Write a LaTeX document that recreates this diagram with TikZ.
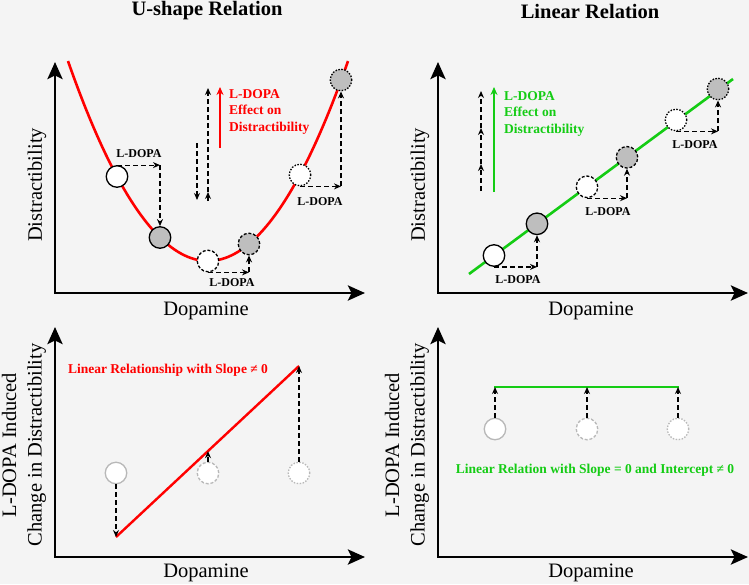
\documentclass[tikz,border=0pt]{standalone}
\usepackage{fontspec}
\setmainfont{Liberation Serif}
\usetikzlibrary{arrows.meta,calc}
\definecolor{bgc}{HTML}{F4F4F4}
\definecolor{myred}{HTML}{FF0000}
\definecolor{mygreen}{HTML}{14CC14}
\definecolor{fillg}{HTML}{BEBEBE}
\definecolor{faint}{HTML}{B8B8B8}
\begin{document}
\begin{tikzpicture}[x=1pt,y=-1pt,
  axis/.style={line width=2.9pt, line join=miter,
    {Stealth[length=17pt,width=15pt,inset=3.5pt]}-{Stealth[length=17pt,width=15pt,inset=3.5pt]}},
  pt/.style={circle, minimum size=21.5pt, inner sep=0pt, line width=1.3pt, draw=black},
  wsolid/.style={pt, fill=white},
  gsolid/.style={pt, fill=fillg},
  wdash/.style={pt, fill=white, dash pattern=on 3pt off 1.8pt},
  gdash/.style={pt, fill=fillg, dash pattern=on 3pt off 1.8pt},
  wdot/.style={pt, fill=white, dash pattern=on 1.5pt off 1.5pt},
  gdot/.style={pt, fill=fillg, dash pattern=on 1.5pt off 1.5pt},
  ghost/.style={pt, fill=white, draw=faint},
  ghostdash/.style={ghost, dash pattern=on 3pt off 1.8pt},
  ghostdot/.style={ghost, dash pattern=on 1.5pt off 1.5pt},
  da/.style={line width=1.2pt, dash pattern=on 5pt off 3pt, -{Stealth[length=7pt,width=6pt]}},
  lbl/.style={font=\bfseries\fontsize{12}{14}\selectfont, inner sep=0pt},
  leg/.style={font=\bfseries\fontsize{13.5}{16.8}\selectfont, inner sep=0pt, align=left},
  axlbl/.style={font=\fontsize{20.5}{25.5}\selectfont, inner sep=0pt},
  ttl/.style={font=\bfseries\fontsize{20.5}{24}\selectfont, inner sep=0pt},
  redarrow/.style={line width=2.5pt, myred, -{Stealth[length=8pt,width=7pt]}},
  greenarrow/.style={line width=2.5pt, mygreen, -{Stealth[length=8pt,width=7pt]}},
]
\path[use as bounding box, fill=bgc] (0,0) rectangle (749,584);

% ---------- titles
\node[ttl] (t1) at (207,11) {U-shape Relation};
\node[ttl] (t2) at (590,11) {Linear Relation};

% ---------- axes
\coordinate (ay1) at (55,62); \coordinate (ao1) at (55,293); \coordinate (ax1) at (365,293);
\coordinate (ay2) at (438,62); \coordinate (ao2) at (438,293); \coordinate (ax2) at (748,293);
\coordinate (ay3) at (55,327); \coordinate (ao3) at (55,557); \coordinate (ax3) at (365,557);
\coordinate (ay4) at (438,327); \coordinate (ao4) at (438,557); \coordinate (ax4) at (748,557);
\draw[axis] (ay1) -- (ao1) -- (ax1);
\draw[axis] (ay2) -- (ao2) -- (ax2);
\draw[axis] (ay3) -- (ao3) -- (ax3);
\draw[axis] (ay4) -- (ao4) -- (ax4);

% axis labels
\node[axlbl, rotate=90] (yl1) at (37,185) {Distractibility};
\node[axlbl, rotate=90] (yl2) at (420,185) {Distractibility};
\node[axlbl] (xl1) at (206,311) {Dopamine};
\node[axlbl] (xl2) at (591,311) {Dopamine};
\node[axlbl] (xl3) at (206,573) {Dopamine};
\node[axlbl] (xl4) at (591,573) {Dopamine};
\node[axlbl, rotate=90, align=center] (yl3) at (24,445) {L-DOPA Induced\\Change in Distractibility};
\node[axlbl, rotate=90, align=center] (yl4) at (407,445) {L-DOPA Induced\\Change in Distractibility};

% ---------- top-left: U-shape
\draw[myred, line width=2.6pt] plot[domain=68:348, samples=90] (\x, {261-(0.101*(\x-208))^2});
\node[wsolid] (u1) at (117,176.5) {};
\node[gsolid] (u2) at (160,237.5) {};
\node[wdash] (u3) at (208,261) {};
\node[gdash] (u4) at (249,244) {};
\node[wdot] (u5) at (300,175) {};
\node[gdot] (u6) at (341,80) {};
\coordinate (uc1) at (u1.north -| u2.north);
\draw[da] (u1.north) -- (uc1);
\draw[da] (uc1) -- (u2.north);
\node[lbl] (ul1) at (139,154) {L-DOPA};
\coordinate (uc2) at (u3.south -| u4.south);
\draw[da] (u3.south) -- (uc2);
\draw[da] (uc2) -- (u4.south);
\node[lbl] (ul2) at (232,283) {L-DOPA};
\coordinate (uc3) at (u5.south -| u6.south);
\draw[da] (u5.south) -- (uc3);
\draw[da] (uc3) -- (u6.south);
\node[lbl] (ul3) at (320,202) {L-DOPA};
% legend
\coordinate (la1) at (197,143); \coordinate (la2) at (197,200);
\draw[da] (la1) -- (la2);
\coordinate (lb1) at (208,201); \coordinate (lb2) at (208,192); \coordinate (lb3) at (208,88);
\draw[da] (lb1) -- (lb2);
\draw[da] (lb2) -- (lb3);
\coordinate (lr1) at (220,148); \coordinate (lr2) at (220,87);
\draw[redarrow] (lr1) -- (lr2);
\node[leg, text=myred, anchor=north west] (lt1) at (229,89) {L-DOPA\\Effect on\\Distractibility};

% ---------- top-right: linear
\coordinate (gl1) at (469,274); \coordinate (gl2) at (733,79);
\draw[mygreen, line width=2.6pt] (gl1) -- (gl2);
\node[wsolid] (v1) at (494,255.5) {};
\node[gsolid] (v2) at (537,223.8) {};
\node[wdash] (v3) at (587,186.8) {};
\node[gdash] (v4) at (627,157.3) {};
\node[wdot] (v5) at (676,120) {};
\node[gdot] (v6) at (718,89) {};
\coordinate (vc1) at (v1.south -| v2.south);
\draw[da] (v1.south) -- (vc1);
\draw[da] (vc1) -- (v2.south);
\node[lbl] (vl1) at (518,280) {L-DOPA};
\coordinate (vc2) at (v3.south -| v4.south);
\draw[da] (v3.south) -- (vc2);
\draw[da] (vc2) -- (v4.south);
\node[lbl] (vl2) at (608,212) {L-DOPA};
\coordinate (vc3) at (v5.south -| v6.south);
\draw[da] (v5.south) -- (vc3);
\draw[da] (vc3) -- (v6.south);
\node[lbl] (vl3) at (695,145) {L-DOPA};
% legend
\coordinate (ma1) at (481,191); \coordinate (ma2) at (481,164);
\coordinate (ma3) at (481,128); \coordinate (ma4) at (481,91);
\draw[da] (ma1) -- (ma2);
\draw[da] (ma2) -- (ma3);
\draw[da] (ma3) -- (ma4);
\coordinate (mg1) at (494,192); \coordinate (mg2) at (494,87);
\draw[greenarrow] (mg1) -- (mg2);
\node[leg, text=mygreen, anchor=north west] (lt2) at (504,91) {L-DOPA\\Effect on\\Distractibility};

% ---------- bottom-left
\coordinate (r1) at (116,537); \coordinate (r2) at (299,366);
\draw[myred, line width=2.4pt] (r1) -- (r2);
\node[ghost] (q1) at (116,473) {};
\node[ghostdash] (q2) at (208,473) {};
\node[ghostdot] (q3) at (299,473) {};
\coordinate (rm) at ($(r1)!0.502!(r2)$);
\draw[da] (q1.south) -- (r1);
\draw[da] (q2.north) -- (q2.north |- rm);
\draw[da] (q3.north) -- (r2);
\node[leg, text=myred] (bl) at (168,370) {Linear Relationship with Slope ≠ 0};

% ---------- bottom-right
\coordinate (h1) at (494,387); \coordinate (h2) at (679,387);
\draw[mygreen, line width=2.4pt] (h1) -- (h2);
\node[ghost] (p1) at (495,429) {};
\node[ghostdash] (p2) at (587,429) {};
\node[ghostdot] (p3) at (678,429) {};
\draw[da] (p1.north) -- (p1.north |- h1);
\draw[da] (p2.north) -- (p2.north |- h1);
\draw[da] (p3.north) -- (p3.north |- h1);
\node[leg, text=mygreen] (br) at (595,470) {Linear Relation with Slope = 0 and Intercept ≠ 0};
\end{tikzpicture}
\end{document}
